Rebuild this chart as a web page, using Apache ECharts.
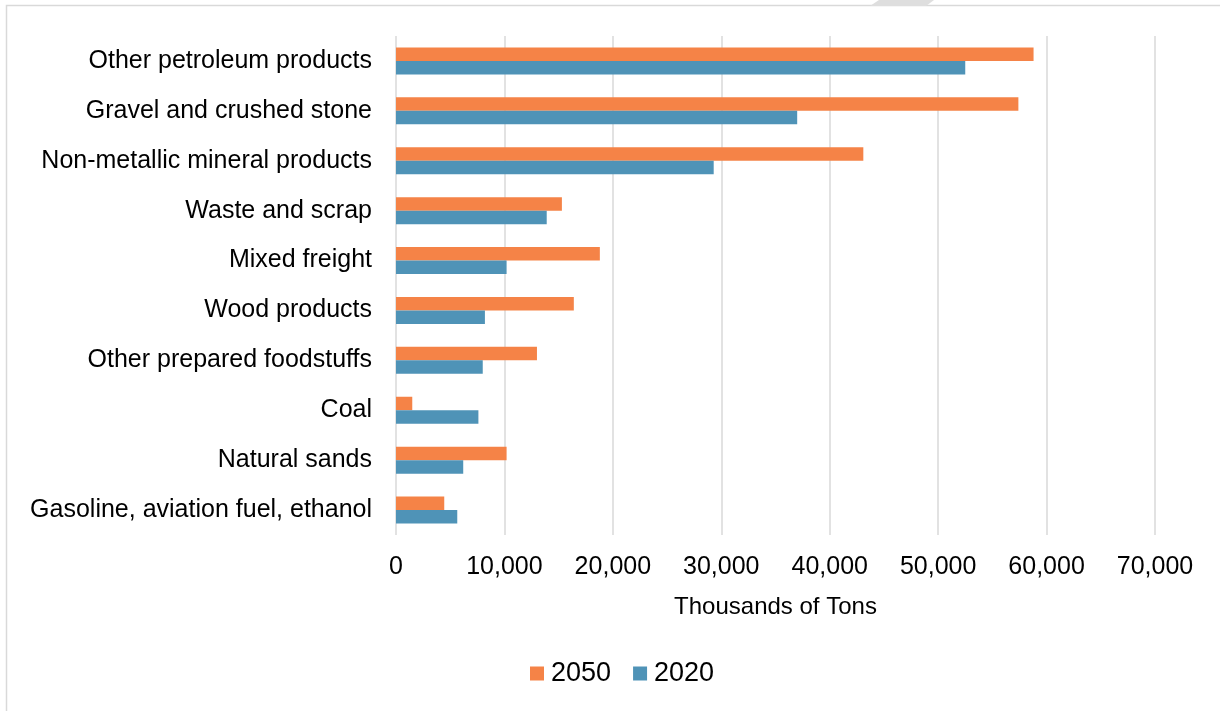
<!DOCTYPE html>
<html>
<head>
<meta charset="utf-8">
<script src="https://cdn.jsdelivr.net/npm/echarts@6/dist/echarts.min.js"></script>
<style>html,body{margin:0;padding:0;background:#fff;}#c{width:1220px;height:711px;}</style>
</head>
<body>
<div id="c"></div>
<script>
const categories = ["Other petroleum products","Gravel and crushed stone","Non-metallic mineral products","Waste and scrap","Mixed freight","Wood products","Other prepared foodstuffs","Coal","Natural sands","Gasoline, aviation fuel, ethanol"];
const values2050 = [58800, 57400, 43100, 15300, 18800, 16400, 13000, 1500, 10200, 4450];
const values2020 = [52500, 37000, 29300, 13900, 10200, 8200, 8000, 7600, 6200, 5650];
const seriesNames = ["2050", "2020"];
const axisTitle = "Thousands of Tons";

const FONT = "'Liberation Sans', Arial, sans-serif";
const chart = echarts.init(document.getElementById('c'));
chart.setOption({
  animation: false,
  backgroundColor: '#fff',
  graphic: [
    {type:'rect', shape:{x:6.5,y:5.5,width:1400,height:900}, style:{fill:'none', stroke:'#d9d9d9', lineWidth:1.5}, silent:true},
    {type:'polygon', shape:{points:[[879,0],[934,0],[926,6],[870,6]]}, style:{fill:'#dedede'}, silent:true}
  ],
  grid: {left: 396, right: 65, top: 36, bottom: 176, containLabel: false},
  legend: {
    data: seriesNames, bottom: 19, left: 525,
    itemWidth: 14, itemHeight: 14, itemGap: 22,
    icon: 'rect',
    textStyle: {fontFamily: FONT, fontSize: 27, color: '#000', padding: [0,0,0,2]}
  },
  xAxis: {
    type: 'value', min: 0, max: 70000, interval: 10000,
    name: axisTitle, nameLocation: 'middle', nameGap: 60,
    nameTextStyle: {fontFamily: FONT, fontSize: 24, color: '#000'},
    axisLine: {show: false}, axisTick: {show: false},
    axisLabel: {fontFamily: FONT, fontSize: 25, color: '#000', margin: 20,
      formatter: v => v.toLocaleString('en-US')},
    splitLine: {lineStyle: {color: '#d9d9d9', width: 1.5}}
  },
  yAxis: {
    type: 'category', data: categories, inverse: true,
    axisLine: {show: false}, axisTick: {show: false},
    axisLabel: {fontFamily: FONT, fontSize: 25, color: '#000', margin: 24}
  },
  series: [
    {name: seriesNames[0], type: 'bar', data: values2050, barWidth: 13.5, barGap: '0%', itemStyle: {color: '#F58347'}},
    {name: seriesNames[1], type: 'bar', data: values2020, barWidth: 13.5, barGap: '0%', itemStyle: {color: '#4F93B7'}}
  ]
});
</script>
</body>
</html>
